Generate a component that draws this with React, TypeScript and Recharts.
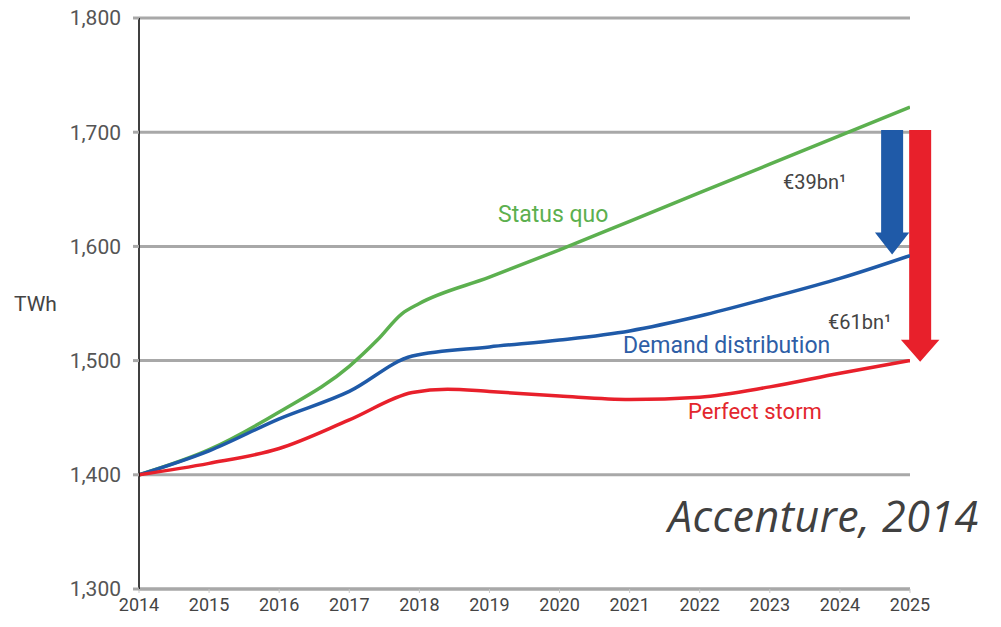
import React from "react";
import {
  LineChart,
  Line,
  XAxis,
  YAxis,
  CartesianGrid,
  ReferenceArea,
} from "recharts";

// years of the x axis
const years = [2014, 2015, 2016, 2017, 2018, 2019, 2020, 2021, 2022, 2023, 2024, 2025];
const yTicks = [1300, 1400, 1500, 1600, 1700, 1800];

// Status quo (TWh)
const statusQuoX = [2014, 2015, 2016, 2017, 2017.4, 2017.75, 2018, 2019, 2020, 2021, 2022, 2023, 2024, 2025];
const statusQuoY = [1400, 1422, 1455, 1495, 1518, 1541, 1550, 1573, 1597, 1622, 1647, 1672, 1697, 1722];

// Demand distribution (TWh)
const demandX = [2014, 2015, 2016, 2017, 2017.9, 2019, 2020, 2021, 2022, 2023, 2024, 2025];
const demandY = [1400, 1421, 1449, 1473, 1504, 1512, 1518, 1526, 1539, 1555, 1572, 1592];

// Perfect storm (TWh)
const stormX = [2014, 2015, 2016, 2017, 2017.9, 2018.4, 2019, 2020, 2021, 2022, 2023, 2024, 2025];
const stormY = [1400, 1410, 1423, 1448, 1472, 1475, 1473, 1469, 1466, 1468, 1477, 1489, 1500];

// savings arrows: from the 1,700 line down to each scenario
const blueArrow = { x1: 2024.5, x2: 2024.99, top: 1702, tip: 1593 };
const redArrow = { x1: 2024.87, x2: 2025.42, top: 1702, tip: 1499 };

const toPoints = (xs: number[], ys: number[]) => xs.map((x, i) => ({ x, y: ys[i] }));

const statusQuo = toPoints(statusQuoX, statusQuoY);
const demand = toPoints(demandX, demandY);
const storm = toPoints(stormX, stormY);

const GREEN = "#5cb04f";
const BLUE = "#1f5aa8";
const RED = "#e8202b";

const Arrow = (props: any) => {
  const { x, y, width, height, fill } = props;
  const shaft = 22;
  const headH = 22;
  const cx = x + width / 2;
  const bottom = y + height;
  const d = `M${cx - shaft / 2},${y} L${cx + shaft / 2},${y} L${cx + shaft / 2},${bottom - headH} L${x + width},${bottom - headH} L${cx},${bottom} L${x},${bottom - headH} L${cx - shaft / 2},${bottom - headH} Z`;
  return <path d={d} fill={fill} />;
};

const label = (left: number, top: number, size: number, color: string): React.CSSProperties => ({
  position: "absolute",
  left,
  top,
  fontSize: size,
  lineHeight: 1,
  color,
  fontFamily: "Roboto, sans-serif",
  whiteSpace: "nowrap",
});

export default function App() {
  return (
    <div style={{ position: "absolute", left: 0, top: 0, width: 1001, height: 627, background: "#fff" }}>
      <LineChart
        width={1001}
        height={627}
        margin={{ top: 18, right: 91, left: 0, bottom: 0 }}
      >
        <CartesianGrid vertical={false} stroke="#a8a8a8" strokeWidth={3} />
        <XAxis
          type="number"
          dataKey="x"
          domain={[2014, 2025]}
          ticks={years}
          height={38}
          axisLine={{ stroke: "#a8a8a8", strokeWidth: 3 }}
          tickLine={{ stroke: "#c8c8c8" }}
          tickSize={4}
          tickMargin={5}
          tick={{ fill: "#444", fontSize: 18, fontFamily: "Roboto, sans-serif" }}
          allowDataOverflow
        />
        <YAxis
          type="number"
          domain={[1300, 1800]}
          ticks={yTicks}
          width={139}
          axisLine={{ stroke: "#000", strokeWidth: 1.5 }}
          tickLine={{ stroke: "#a8a8a8", strokeWidth: 3 }}
          tickSize={6}
          tickMargin={12}
          tickFormatter={(v: number) => v.toLocaleString("en-US")}
          tick={{ fill: "#555", fontSize: 21, fontFamily: "Roboto, sans-serif" }}
        />
        <Line data={statusQuo} dataKey="y" type="monotone" stroke={GREEN} strokeWidth={3.5} dot={false} isAnimationActive={false} />
        <Line data={demand} dataKey="y" type="monotone" stroke={BLUE} strokeWidth={3.5} dot={false} isAnimationActive={false} />
        <Line data={storm} dataKey="y" type="monotone" stroke={RED} strokeWidth={3.5} dot={false} isAnimationActive={false} />
        <ReferenceArea
          x1={blueArrow.x1}
          x2={blueArrow.x2}
          y1={blueArrow.tip}
          y2={blueArrow.top}
          ifOverflow="visible"
          fill={BLUE}
          shape={(p: any) => <Arrow {...p} fill={BLUE} />}
        />
        <ReferenceArea
          x1={redArrow.x1}
          x2={redArrow.x2}
          y1={redArrow.tip}
          y2={redArrow.top}
          ifOverflow="visible"
          fill={RED}
          shape={(p: any) => <Arrow {...p} fill={RED} />}
        />
      </LineChart>

      <div style={label(14, 294, 21, "#444")}>TWh</div>
      <div style={label(498, 203, 23, GREEN)}>Status quo</div>
      <div style={label(623, 334, 23, "#2e5ea6")}>Demand distribution</div>
      <div style={label(688, 401, 22, "#e3262d")}>Perfect storm</div>
      <div style={label(783, 172, 20, "#444")}>€39bn¹</div>
      <div style={label(828, 312, 20, "#444")}>€61bn¹</div>
      <div
        style={{
          ...label(668, 494, 43, "#404040"),
          fontFamily: "'Open Sans', sans-serif",
          fontStyle: "italic",
          letterSpacing: 0.5,
        }}
      >
        Accenture, 2014
      </div>
    </div>
  );
}
